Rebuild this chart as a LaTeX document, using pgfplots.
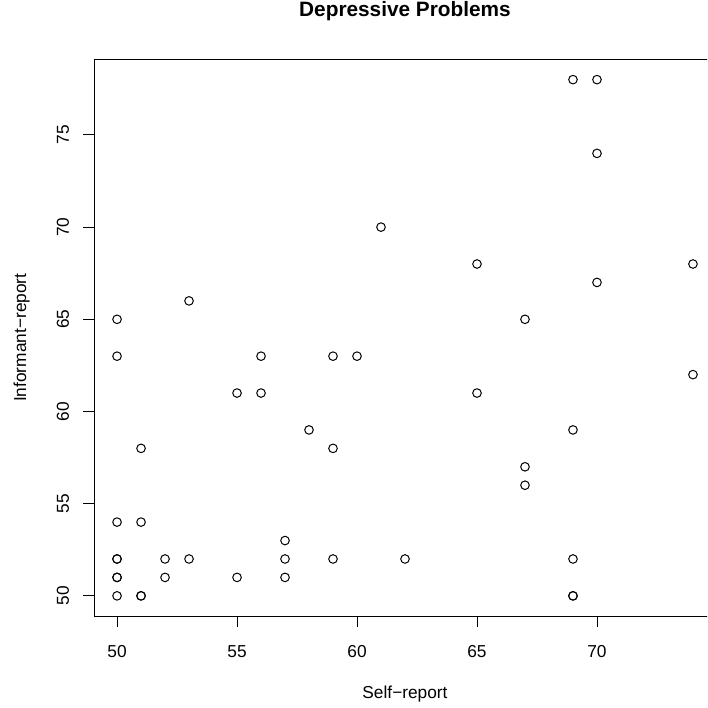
\documentclass[border=0pt]{standalone}
\usepackage{pgfplots}
\pgfplotsset{compat=1.18}
\usepackage{fontspec}
\setmainfont{Liberation Sans}
\begin{document}
\begin{tikzpicture}
\useasboundingbox (0pt,0pt) rectangle (707pt,708pt);
\clip (0pt,0pt) rectangle (707pt,708pt);
\begin{axis}[
  at={(94pt,91.5pt)}, anchor=south west,
  scale only axis, width=622pt, height=557.5pt,
  xmin=49.04, xmax=74.96, ymin=48.88, ymax=79.12,
  axis line style={line width=0.9pt},
  xtick={50,55,60,65,70}, ytick={50,55,60,65,70,75},
  tick align=outside, major tick length=10.5pt,
  tick style={line width=0.9pt, black},
  xtick pos=bottom, ytick pos=left,
  /pgf/number format/assume math mode=true,
  tick label style={font=\fontsize{17.3}{20}\selectfont},
  xticklabel style={anchor=base, yshift=-30pt},
  yticklabel style={xshift=-14.5pt, rotate=90, anchor=base},
  title={Depressive Problems},
  title style={at={(axis description cs:0.5,1.06457)}, anchor=base, font=\fontsize{20.8}{24}\selectfont\bfseries},
  xlabel={Self−report},
  xlabel style={at={(axis description cs:0.5,-0.14619)}, anchor=base, font=\fontsize{17.3}{20}\selectfont},
  ylabel={Informant−report},
  ylabel style={at={(axis description cs:-0.10932,0.5)}, anchor=base, font=\fontsize{17.3}{20}\selectfont},
]
\addplot[only marks, mark=o, mark size=4.3pt, mark options={line width=1pt, black}] coordinates {
(69,78) (70,78) (70,74) (61,70) (65,68) (74,68) (70,67) (53,66)
(50,65) (67,65) (50,63) (56,63) (59,63) (60,63) (74,62)
(55,61) (56,61) (65,61) (58,59) (69,59) (51,58) (59,58)
(67,57) (67,56) (50,54) (51,54) (57,53)
(50,52) (50,52) (52,52) (53,52) (57,52) (59,52) (62,52) (69,52)
(50,51) (50,51) (52,51) (55,51) (57,51)
(50,50) (51,50) (51,50) (69,50) (69,50)
};
\end{axis}
\end{tikzpicture}
\end{document}
